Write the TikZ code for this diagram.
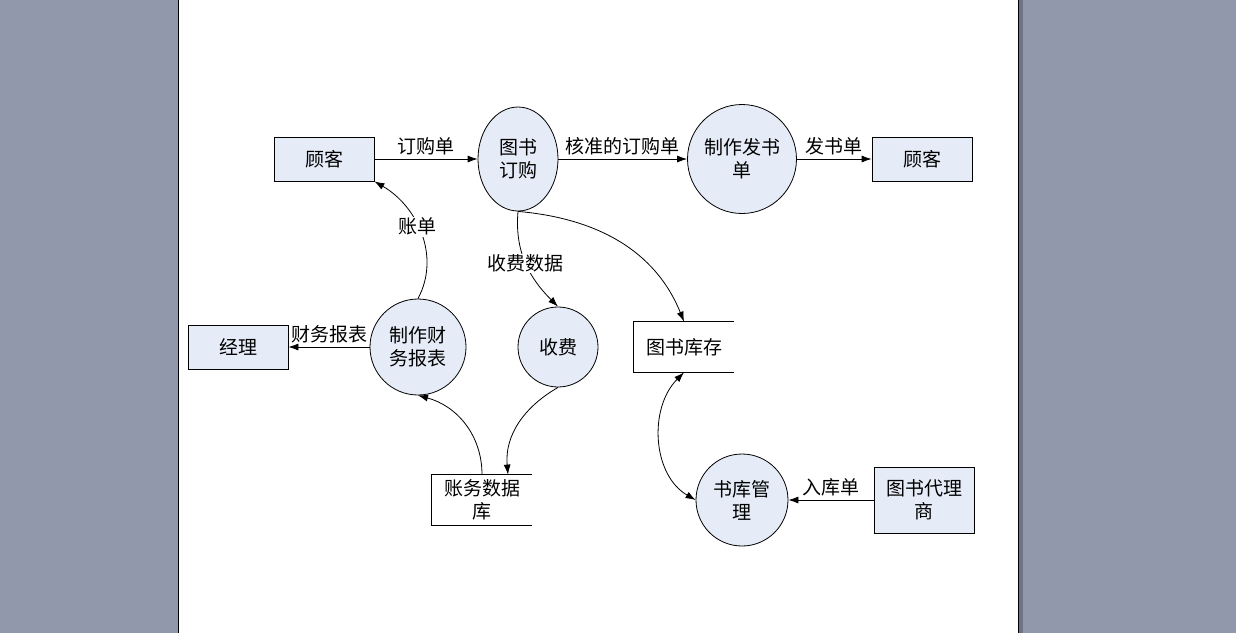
\documentclass[tikz,border=0pt]{standalone}
\usepackage{fontspec}
\setmainfont{Noto Sans CJK SC}
\usepackage{tikz}
\usetikzlibrary{shapes.geometric}
\usetikzlibrary{arrows.meta}

\definecolor{pagegray}{RGB}{145,152,172}
\definecolor{shadowgray}{RGB}{110,116,134}
\definecolor{procfill}{RGB}{230,236,247}

\tikzset{
  ent/.style={draw, fill=procfill, minimum width=100pt, minimum height=44pt, inner sep=0pt},
  proc/.style={draw, fill=procfill, circle, align=center, inner sep=0pt},
  store/.style={minimum width=100pt, minimum height=50pt, align=center, inner sep=0pt},
  flowlabel/.style={fill=white, inner sep=1pt},
}

\begin{document}
\begin{tikzpicture}[x=1pt,y=-1pt,line width=0.8pt,>={Latex[length=10pt,width=7pt]},
  font=\fontsize{19pt}{23pt}\selectfont]
\useasboundingbox (0,0) rectangle (1236,633);
\fill[pagegray] (0,0) rectangle (1236,633);
\fill[white] (178,0) rectangle (1018,633);
\fill[shadowgray] (1019,0) rectangle (1023,633);
\draw (178,0) -- (178,633);
\draw (1018.5,0) -- (1018.5,633);

\node[ent] (custL) at (324,159) {顾客};
\node[draw, fill=procfill, ellipse, minimum width=80pt, minimum height=104pt, inner sep=0pt, align=center] (order) at (518,159) {图书\\订购};
\node[proc, minimum size=109pt] (invoice) at (742,159) {制作发书\\单};
\node[ent] (custR) at (922,159) {顾客};
\node[ent] (mgr) at (238,347) {经理};
\node[proc, minimum size=96pt] (report) at (418,347) {制作财\\务报表};
\node[proc, minimum size=80pt] (fee) at (558,347) {收费};
\node[store] (stock) at (684,347) {图书库存};
\node[store] (acct) at (482,500) {账务数据\\库};
\node[proc, minimum size=92pt] (depot) at (742,500) {书库管\\理};
\node[ent, minimum height=66pt, align=center] (agent) at (924,500) {图书代理\\商};

% open data stores
\draw (stock.north east) -- (stock.north west) -- (stock.south west) -- (stock.south east);
\draw (acct.north east) -- (acct.north west) -- (acct.south west) -- (acct.south east);

% flows
\draw[->] (custL) -- node[above] {订购单} (order);
\draw[->] (order) -- node[above] {核准的订购单} (invoice);
\draw[->] (invoice) -- node[above] {发书单} (custR);
\draw[->] (report) -- node[above] {财务报表} (mgr);
\draw[->] (agent) -- node[above] {入库单} (depot);

\draw[->] (report.north) to[out=62,in=-30] node[flowlabel,pos=0.55] {账单} (custL.south east);
\draw[->] (order.south) to[out=-95,in=135] node[flowlabel,pos=0.5] {收费数据} (fee.north);
\draw[->] (order.south) to[out=-5,in=112] (stock.north);
\draw[->] (acct.north) to[out=90,in=-15] (report.south);
\draw[->] (fee.south) to[out=-150,in=95] ([xshift=26pt]acct.north);
\draw[<->] (stock.south) to[out=-135,in=150] (depot.west);
\end{tikzpicture}
\end{document}
